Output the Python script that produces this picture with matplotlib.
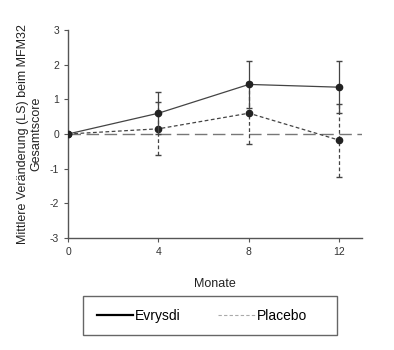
import numpy as np
import matplotlib.pyplot as plt
from matplotlib.lines import Line2D
from matplotlib.patches import Rectangle

plt.rcParams['font.family'] = ['Liberation Sans', 'DejaVu Sans']
plt.rcParams['axes.unicode_minus'] = False

# data
months = [0, 4, 8, 12]
evrysdi = [0, 0.6, 1.43, 1.35]
evrysdi_err = [0, 0.6, 0.67, 0.75]
placebo = [0, 0.15, 0.6, -0.18]
placebo_err = [0, 0.76, 0.9, 1.05]

xticks = [0, 4, 8, 12]
yticks = [-3, -2, -1, 0, 1, 2, 3]

fig = plt.figure(figsize=(3.94, 3.5), dpi=100)
ax = fig.add_axes([68/394, 1-238/350, 294/394, 208/350])

axis_col = '#555555'
dot_col = '#222222'

# reference line at 0
ax.plot([0, 13], [0, 0], ls=(0, (9, 4)), color='#777777', lw=1.0, zorder=1)

ax.errorbar(months, evrysdi, yerr=evrysdi_err, color='#444444', lw=0.9,
            marker='o', ms=4.5, mfc=dot_col, mec=dot_col, capsize=2, elinewidth=0.9, zorder=3)
eb = ax.errorbar(months, placebo, yerr=placebo_err, color='#444444', lw=0.9, ls=(0, (3, 2)),
                 marker='o', ms=4.5, mfc=dot_col, mec=dot_col, capsize=2, elinewidth=0.9, zorder=2)
eb[-1][0].set_linestyle((0, (3, 2)))

ax.set_xlim(0, 13)
ax.set_ylim(-3, 3)
ax.set_xticks(xticks)
ax.set_yticks(yticks)
for s in ['top', 'right']:
    ax.spines[s].set_visible(False)
for s in ['left', 'bottom']:
    ax.spines[s].set_color(axis_col)
    ax.spines[s].set_linewidth(1.0)
ax.tick_params(colors=axis_col, labelcolor='#333333', labelsize=7.5, length=3, direction='out')

ax.set_xlabel("Monate", fontsize=9, labelpad=15, color='#222222')
ax.set_ylabel("Mittlere Veränderung (LS) beim MFM32\nGesamtscore", fontsize=9.0,
              color='#222222', labelpad=5)

# legend box
fig.patches.append(Rectangle((83/394, 1-335/350), 254/394, 39/350, transform=fig.transFigure,
                             fill=False, edgecolor='#666666', lw=1.0))
handles = [Line2D([0], [0], color='black', lw=1.6),
           Line2D([0], [0], color='#aaaaaa', lw=0.8, ls=(0, (3, 2)))]
leg = fig.legend(handles, ["Evrysdi", "Placebo"], loc='center left',
                 bbox_to_anchor=(97/394, 1-316/350), ncol=2, fontsize=10, frameon=False,
                 handlelength=2.6, borderaxespad=0, borderpad=0, columnspacing=2.7,
                 handletextpad=0.15)

fig.savefig("out.png", dpi=100)
